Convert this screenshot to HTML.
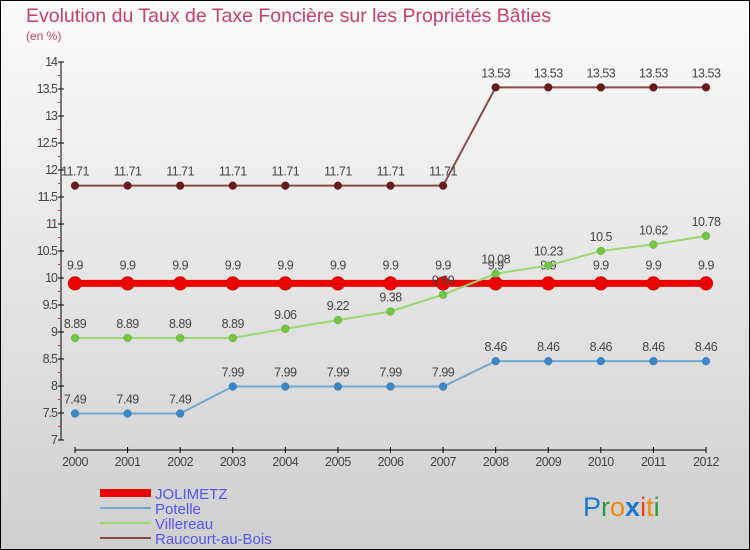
<!DOCTYPE html>
<html><head><meta charset="utf-8"><style>
body{margin:0;width:750px;height:550px;overflow:hidden}
svg{display:block;font-family:"Liberation Sans",sans-serif}
</style></head><body>
<svg width="750" height="550">
<defs><linearGradient id="bg" x1="0" y1="0" x2="0" y2="1"><stop offset="0" stop-color="#fbfbfb"/><stop offset="1" stop-color="#cfcfcf"/></linearGradient></defs>
<rect x="0.5" y="0.5" width="749" height="549" fill="url(#bg)" stroke="#000"/>
<text x="26" y="22" font-size="19.5" fill="#c8406a">Evolution du Taux de Taxe Foncière sur les Propriétés Bâties</text>
<text x="26" y="40" font-size="12" fill="#c8406a">(en %)</text>
<g id="axes"></g><g id="series"></g>
<g>
<rect x="100" y="489" width="51" height="8" fill="#e00"/>
<text x="155" y="499" font-size="15" fill="#5555ee">JOLIMETZ</text>
<rect x="100" y="507" width="51" height="2" fill="#6fa8d0"/>
<text x="155" y="514" font-size="15" fill="#5555ee">Potelle</text>
<rect x="100" y="522" width="51" height="2" fill="#9ad870"/>
<text x="155" y="529" font-size="15" fill="#5555ee">Villereau</text>
<rect x="100" y="537" width="51" height="2" fill="#8a4a4a"/>
<text x="155" y="544" font-size="15" fill="#5555ee">Raucourt-au-Bois</text>
</g>
<text x="583" y="516" font-size="27"><tspan fill="#1a78d0">P</tspan><tspan fill="#2a9a3a">r</tspan><tspan fill="#f08a10">o</tspan><tspan fill="#1a78d0" font-weight="bold">x</tspan><tspan fill="#e84010">i</tspan><tspan fill="#f08a10">t</tspan><tspan fill="#2a9a3a">i</tspan></text>
</svg>
<script>
const years=['2000','2001','2002','2003','2004','2005','2006','2007','2008','2009','2010','2011','2012'];
const yTicks=[7,7.5,8,8.5,9,9.5,10,10.5,11,11.5,12,12.5,13,13.5,14];
const jolimetz=[9.9,9.9,9.9,9.9,9.9,9.9,9.9,9.9,9.9,9.9,9.9,9.9,9.9];
const potelle=[7.49,7.49,7.49,7.99,7.99,7.99,7.99,7.99,8.46,8.46,8.46,8.46,8.46];
const villereau=[8.89,8.89,8.89,8.89,9.06,9.22,9.38,9.69,10.08,10.23,10.5,10.62,10.78];
const raucourt=[11.71,11.71,11.71,11.71,11.71,11.71,11.71,11.71,13.53,13.53,13.53,13.53,13.53];
const NS='http://www.w3.org/2000/svg';
const X=i=>75+i*(706-75)/(years.length-1);
const Y=v=>440-(v-7)*54;
function mk(p,t,a){const e=document.createElementNS(NS,t);for(const k in a)e.setAttribute(k,a[k]);p.appendChild(e);return e;}
const ax=document.getElementById('axes');
let l=mk(ax,'line',{x1:61,y1:Y(14),x2:61,y2:Y(7),stroke:'#000'});

yTicks.forEach(v=>{mk(ax,'line',{x1:58,y1:Y(v),x2:64,y2:Y(v),stroke:'#000'});
 mk(ax,'line',{x1:58,y1:Y(v+0.25),x2:61,y2:Y(v+0.25),stroke:v<14?'#e33':'none'});
 const t=mk(ax,'text',{x:57,y:Y(v)+4,'font-size':12.5,'text-anchor':'end',fill:'#444','letter-spacing':'-1'});t.textContent=String(v);
 });
l=mk(ax,'line',{x1:X(0),y1:450,x2:X(12),y2:450,stroke:'#000'});

years.forEach((y,i)=>{mk(ax,'line',{x1:X(i),y1:447,x2:X(i),y2:453,stroke:'#000'});
 const t=mk(ax,'text',{x:X(i),y:466,'font-size':12.5,'text-anchor':'middle',fill:'#444','letter-spacing':'-0.5'});t.textContent=y;
 });
const sg=document.getElementById('series');
function series(name,data,col,w,r,dot){
 const g=mk(sg,'g',{});
 
 mk(g,'polyline',{points:data.map((v,i)=>X(i)+','+Y(v)).join(' '),fill:'none',stroke:col,'stroke-width':w});
 data.forEach((v,i)=>{const c=mk(g,'circle',{cx:X(i),cy:Y(v),r:r,fill:dot,stroke:'#0003','stroke-width':0.5});
  
  const t=mk(g,'text',{x:X(i),y:Y(v)-10-(name==='jolimetz'?4:0),'font-size':12.5,'text-anchor':'middle',fill:'#444','letter-spacing':'-0.5'});t.textContent=String(v);
  });
}
series('jolimetz',jolimetz,'#ee0000',7,7,'#ee0000');
series('potelle',potelle,'#6fa8d0',2,4,'#3a88c8');
series('villereau',villereau,'#9ad870',2,4,'#70c840');
series('raucourt',raucourt,'#8a4a4a',2,4,'#6a1a1a');
</script>
</body></html>
